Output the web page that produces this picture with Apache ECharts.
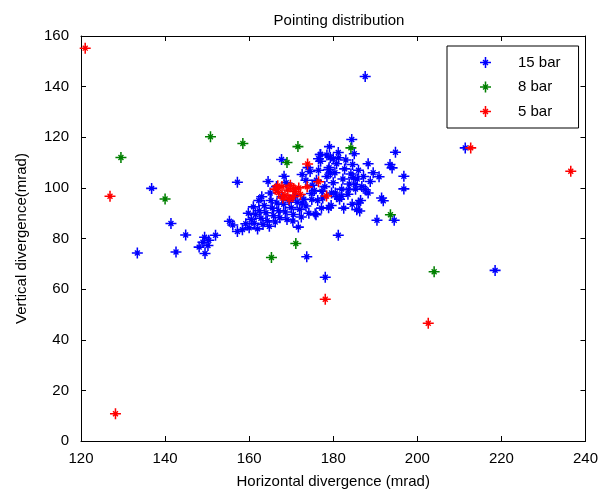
<!DOCTYPE html>
<html>
<head>
<meta charset="utf-8">
<script src="https://cdn.jsdelivr.net/npm/echarts@6/dist/echarts.min.js"></script>
<style>
  html, body { margin: 0; padding: 0; background: #fff; }
  #chart { width: 601px; height: 496px; }
</style>
</head>
<body>
<div id="chart"></div>
<script>
// Beam pointing measurements: [horizontal divergence, vertical divergence] in mrad
const seriesNames = ['15 bar', '8 bar', '5 bar'];
const seriesColors = ['#0000ff', '#008000', '#ff0000'];

const xTicks = [120, 140, 160, 180, 200, 220, 240];
const yTicks = [0, 20, 40, 60, 80, 100, 120, 140, 160];

const bar15 = [
  [133.4, 74.3], [136.8, 99.8], [141.4, 85.9], [142.6, 74.7], [144.9, 81.4],
  [148.1, 76.6], [149.4, 80.5], [149.5, 74.1], [150.4, 79.3], [150.2, 77.2],
  [152.0, 81.3], [149.0, 78.5], [155.3, 86.8], [156.1, 85.3], [157.2, 82.8],
  [157.2, 102.2], [170.4, 86.9], [171.7, 84.5], [173.7, 72.8], [175.9, 89.4],
  [178.1, 64.7], [181.2, 81.3], [186.3, 90.9], [190.4, 87.2], [194.5, 87.2],
  [191.9, 94.9], [187.6, 144.0], [211.4, 115.8], [218.5, 67.4], [196.8, 104.6],
  [196.8, 99.6], [194.8, 114.1], [193.5, 109.2], [194.0, 107.9], [190.9, 104.4],
  [191.5, 96.0], [188.3, 109.5], [184.4, 119.1], [179.1, 116.3], [177.0, 113.2],
  [181.3, 111.9], [167.7, 111.2], [168.3, 104.6], [172.6, 105.3],
  [158.4, 83.5], [159.2, 85.8], [160.0, 84.2], [160.5, 87.5], [161.2, 86.0],
  [161.5, 89.5], [162.0, 83.8], [162.4, 91.0], [162.8, 88.0], [163.3, 85.5],
  [163.6, 93.0], [164.0, 90.2], [164.3, 87.0], [164.8, 84.8], [165.2, 95.0],
  [165.5, 92.0], [165.8, 89.0], [166.2, 86.5], [166.6, 94.0], [167.0, 91.0],
  [167.3, 88.2], [167.8, 96.5], [168.2, 93.5], [168.6, 90.5], [169.0, 87.5],
  [169.5, 95.0], [170.0, 92.2], [170.5, 89.5], [171.0, 97.0], [171.4, 94.3],
  [172.0, 91.5], [172.4, 88.5], [173.0, 95.5], [173.5, 92.8], [174.2, 90.0],
  [174.8, 97.8], [163.0, 96.5], [161.0, 92.5], [159.8, 90.0], [165.0, 98.0],
  [166.5, 100.5], [168.8, 102.0], [164.5, 102.5], [162.3, 95.0],
  [175.5, 99.0], [176.0, 103.0], [176.5, 107.0], [177.0, 110.5], [177.5, 96.0],
  [178.0, 100.5], [178.5, 104.5], [179.0, 108.0], [179.3, 112.0], [179.6, 98.0],
  [180.0, 102.0], [180.4, 106.0], [180.8, 109.5], [181.2, 114.0], [181.5, 95.5],
  [182.0, 99.5], [182.3, 103.5], [182.7, 107.5], [183.0, 111.0], [183.5, 97.5],
  [183.8, 101.5], [184.2, 105.5], [184.6, 109.2], [185.0, 113.5], [185.3, 99.5],
  [185.7, 103.5], [186.0, 107.0], [186.5, 95.0], [186.8, 100.5], [187.2, 104.5],
  [187.6, 99.3], [188.3, 98.0], [188.8, 102.5], [189.5, 106.0], [184.5, 93.5],
  [182.5, 92.0], [179.5, 93.0], [177.2, 92.0], [176.3, 95.0], [180.8, 96.5],
  [178.9, 92.1], [185.6, 91.4], [186.0, 94.0], [182.0, 96.7], [180.5, 98.0],
  [179.3, 105.9], [178.9, 107.2], [184.8, 104.0], [185.2, 101.3], [183.6, 99.3],
  [177.3, 98.7], [174.9, 95.4], [172.6, 94.0], [175.7, 89.8], [176.9, 113.2],
  [176.5, 111.5], [178.5, 113.0], [180.0, 111.5], [173.5, 103.0], [174.5, 106.5],
  [175.0, 101.0], [174.0, 108.0]
];

const bar8 = [
  [129.5, 112.0], [140.0, 95.6], [150.8, 120.2], [158.5, 117.5], [165.3, 72.5],
  [169.0, 110.0], [171.1, 78.0], [171.6, 116.3], [184.2, 115.8], [193.6, 89.4],
  [204.0, 66.9]
];

const bar5 = [
  [121.0, 155.2], [126.9, 96.7], [128.2, 10.8], [178.1, 56.0], [202.6, 46.5],
  [212.7, 115.8], [236.5, 106.6], [173.9, 109.4], [176.5, 102.4], [173.8, 100.4],
  [178.4, 96.8], [166.2, 99.5], [167.0, 98.2], [167.8, 100.5], [168.5, 97.0],
  [169.2, 99.2], [169.8, 101.0], [170.4, 96.5], [171.0, 98.6], [171.8, 100.0],
  [172.2, 97.4], [168.0, 96.0], [166.8, 100.8], [170.6, 99.8], [169.5, 95.5]
];

// Eight-armed asterisk marker: long horizontal/vertical arms, short diagonals
const asterisk = 'path://M8.6 0 L11.4 0 L11.4 20 L8.6 20 Z M0 8.6 L20 8.6 L20 11.4 L0 11.4 Z ' +
  'M4.6 6.4 L6.4 4.6 L15.4 13.6 L13.6 15.4 Z M13.6 4.6 L15.4 6.4 L6.4 15.4 L4.6 13.6 Z';

const FONT = 'Liberation Sans, Arial, Helvetica, sans-serif';
const allData = [bar15, bar8, bar5];

const chart = echarts.init(document.getElementById('chart'), null, { renderer: 'canvas' });

const tickStyle = { show: true, inside: true, length: 5, lineStyle: { color: '#000', width: 1 } };
const lineStyle = { show: true, onZero: false, lineStyle: { color: '#000', width: 1 } };

chart.setOption({
  animation: false,
  backgroundColor: '#fff',
  title: {
    text: 'Pointing distribution',
    left: 334, top: 8, textAlign: 'center',
    textStyle: { fontFamily: FONT, fontSize: 15, fontWeight: 'normal', color: '#000' }
  },
  grid: { left: 81, right: 13, top: 36, bottom: 55, containLabel: false },
  legend: {
    data: seriesNames,
    orient: 'vertical',
    left: 447, top: 46,
    padding: [9, 18, 9, 33],
    itemGap: 9.5,
    itemWidth: 11, itemHeight: 11,
    borderColor: '#000', borderWidth: 1,
    backgroundColor: '#fff',
    icon: asterisk,
    textStyle: { fontFamily: FONT, fontSize: 15, color: '#000', padding: [0, 0, 0, 22] }
  },
  xAxis: [
    {
      type: 'value', min: xTicks[0], max: xTicks[xTicks.length - 1], interval: 20,
      position: 'bottom',
      name: 'Horizontal divergence (mrad)', nameLocation: 'middle', nameGap: 33,
      nameTextStyle: { fontFamily: FONT, fontSize: 15, color: '#000' },
      axisLine: lineStyle, axisTick: tickStyle, splitLine: { show: false },
      axisLabel: { fontFamily: FONT, fontSize: 15, color: '#000', margin: 10 }
    },
    {
      type: 'value', min: xTicks[0], max: xTicks[xTicks.length - 1], interval: 20,
      position: 'top',
      axisLine: lineStyle, axisTick: tickStyle, splitLine: { show: false },
      axisLabel: { show: false }
    }
  ],
  yAxis: [
    {
      type: 'value', min: yTicks[0], max: yTicks[yTicks.length - 1], interval: 20,
      position: 'left',
      name: 'Vertical divergence(mrad)', nameLocation: 'middle', nameGap: 52,
      nameTextStyle: { fontFamily: FONT, fontSize: 15, color: '#000' },
      axisLine: lineStyle, axisTick: tickStyle, splitLine: { show: false },
      axisLabel: { fontFamily: FONT, fontSize: 15, color: '#000', margin: 12 }
    },
    {
      type: 'value', min: yTicks[0], max: yTicks[yTicks.length - 1], interval: 20,
      position: 'right',
      axisLine: lineStyle, axisTick: tickStyle, splitLine: { show: false },
      axisLabel: { show: false }
    }
  ],
  series: seriesNames.map((name, i) => ({
    name: name,
    type: 'scatter',
    xAxisIndex: 0, yAxisIndex: 0,
    data: allData[i],
    symbol: asterisk,
    symbolSize: 11,
    itemStyle: { color: seriesColors[i], opacity: 1 },
    emphasis: { disabled: true }
  }))
});
</script>
</body>
</html>
